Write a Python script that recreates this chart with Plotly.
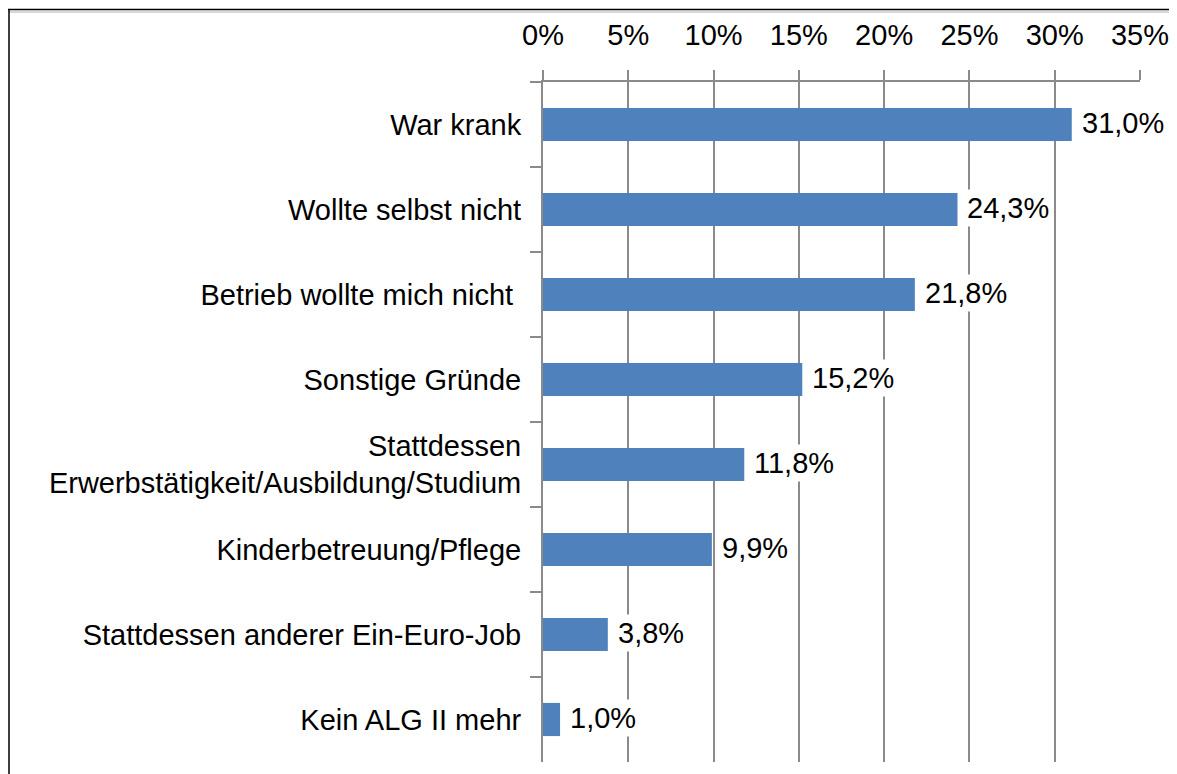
import plotly.graph_objects as go

categories = [
    "War krank",
    "Wollte selbst nicht",
    "Betrieb wollte mich nicht ",
    "Sonstige Gründe",
    "Stattdessen<br>Erwerbstätigkeit/Ausbildung/Studium",
    "Kinderbetreuung/Pflege",
    "Stattdessen anderer Ein-Euro-Job",
    "Kein ALG II mehr",
]
values = [31.0, 24.3, 21.8, 15.2, 11.8, 9.9, 3.8, 1.0]
tick_vals = [0, 5, 10, 15, 20, 25, 30, 35]
tick_text = ["0%", "5%", "10%", "15%", "20%", "25%", "30%", "35%"]

FONT = "Liberation Sans, Arial, sans-serif"
BAR = "#4f81bd"
GRID = "#8a8a8a"
FS = 29

# page has an 8px body margin, so the figure is placed 8px right/down
L, R, T, B = 535, 45, 74, 20
PW, PH = 1177 - L - R, 774 - T - B


def px_x(x):
    return (x - L) / PW


def px_y(y):
    return (774 - B - y) / PH


fig = go.Figure()
fig.add_trace(go.Bar(
    x=values,
    y=categories,
    orientation="h",
    marker=dict(color=BAR, line=dict(width=0)),
    hoverinfo="skip",
))

for c, v in zip(categories, values):
    fig.add_annotation(
        x=v, y=c, xref="x", yref="y",
        text=f"{v:.1f}".replace(".", ",") + "%",
        showarrow=False, xanchor="left", yanchor="middle",
        xshift=7, yshift=2,
        bgcolor="white", borderpad=2,
        font=dict(family=FONT, size=FS, color="#000000"),
    )

fig.update_layout(
    width=1177, height=774,
    margin=dict(l=L, r=R, t=T, b=B),
    paper_bgcolor="white", plot_bgcolor="white",
    bargap=0.61,
    showlegend=False,
    font=dict(family=FONT, size=FS, color="#000000"),
    xaxis=dict(
        side="top",
        range=[0, 35],
        tickvals=tick_vals,
        ticktext=tick_text,
        showgrid=True, gridcolor=GRID, gridwidth=1.5,
        showline=True, linecolor=GRID, linewidth=2,
        ticks="outside", ticklen=10, tickcolor=GRID, tickwidth=1.5,
        ticklabelstandoff=13,
        zeroline=False,
        tickfont=dict(family=FONT, size=FS, color="#000000"),
        fixedrange=True,
    ),
    yaxis=dict(
        autorange="reversed",
        showgrid=False,
        showline=True, linecolor=GRID, linewidth=2,
        ticks="outside", ticklen=11, tickcolor=GRID, tickwidth=1.5,
        tickson="boundaries",
        ticklabelstandoff=14,
        tickfont=dict(family=FONT, size=FS, color="#000000"),
        fixedrange=True,
    ),
)

# outer frame of the original picture (cropped)
fig.add_shape(type="line", xref="paper", yref="paper",
              x0=px_x(0), x1=px_x(1200), y0=px_y(1.5), y1=px_y(1.5),
              line=dict(color="#000000", width=1.5))
fig.add_shape(type="line", xref="paper", yref="paper",
              x0=px_x(0), x1=px_x(1200), y0=px_y(4), y1=px_y(4),
              line=dict(color="#b0b0b0", width=1))
fig.add_shape(type="line", xref="paper", yref="paper",
              x0=px_x(1), x1=px_x(1), y0=px_y(1.5), y1=px_y(800),
              line=dict(color="#000000", width=1.5))

fig.write_html("out.html")
